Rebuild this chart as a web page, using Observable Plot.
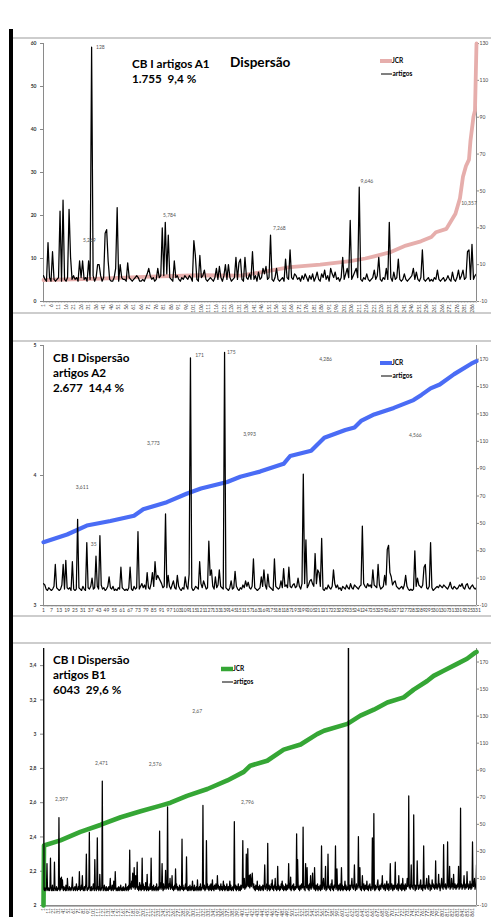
<!DOCTYPE html>
<html><head><meta charset="utf-8">
<script src="https://cdn.jsdelivr.net/npm/d3@7"></script>
<script src="https://cdn.jsdelivr.net/npm/@observablehq/plot@0.6"></script>
<style>
html,body{margin:0;padding:0;background:#fff;}
#page{position:relative;width:491px;height:917px;overflow:hidden;background:#fff;}
.deco{position:absolute;}
</style></head><body><div id="page"></div>
<script>
// ---------- Panel 1 : A1 ----------
const artigos1 = [4,2,1,22,3,1,17,2,1,2, 3,39,1,45,2,1,3,40,14,2, 4,2,3,1,12,3,12,2,3,1, 12,2,128,4,1,3,10,10,4,1,
 3,27,29,12,2,1,1,3,8,41, 1,10,3,2,2,1,11,3,2,1, 2,3,4,3,1,1,2,1,3,5, 8,4,2,3,1,2,8,3,4,30,
 4,33,5,26,3,2,1,12,3,4, 2,1,3,2,4,3,2,4,3,1, 23,15,2,1,15,3,4,7,2,1, 2,3,2,1,3,8,2,9,3,1,
 4,10,2,10,3,1,2,3,14,2, 11,13,2,1,14,3,2,5,2,17, 2,4,1,6,2,3,8,5,9,2, 3,26,2,1,3,8,2,1,2,3,
 1,13,3,2,18,3,2,5,4,2, 3,1,4,2,5,3,1,4,2,5, 1,3,6,2,1,5,3,7,2,4, 1,8,5,3,6,2,3,1,3,14,
 2,5,8,3,34,2,4,6,8,3, 52,2,1,3,2,5,2,1,2,3, 7,2,4,14,2,1,3,2,8,2, 33,3,1,6,2,3,13,2,1,2,
 5,2,1,2,3,4,8,2,6,2, 1,3,18,2,1,2,3,1,2,1, 3,2,7,2,1,2,3,1,2,4, 2,1,6,2,1,3,7,2,4,7,
 2,3,17,18,2,21,2,4,5];
const jcr1Idx = [1,39,72,105,132,139,149,165,185,205,215,221,232,242,252,259,262,269,275,278,280,282,284,285,287,288,289];
const jcr1Val = [5.0,5.3,5.8,6.1,6.0,6.4,7.0,8.0,8.6,9.4,10.0,10.5,11.5,13.0,14.0,15.0,16.1,16.9,20.4,24,29,31.5,33,37.4,43,44.4,60];
const yTicks1 = [0,10,20,30,40,50,60];
const rTicks1 = [-10,10,30,50,70,90,110,130];
const xLabels1 = [1,6,11,16,21,26,31,36,41,46,51,56,61,66,71,76,81,86,91,96,101,106,111,116,121,126,131,136,141,146,151,156,161,166,171,176,181,186,191,196,201,206,211,216,221,226,231,236,241,246,251,256,261,266,271,276,281,286];
const notes1T = ["128","5,269","5,784","7,268","9,646","10,357"];
const notes1I = [38.8,31.5,84.8,157.9,216.1,284];
const notes1V = [59.1,14.2,20.0,16.9,27.9,22.7];

// ---------- Panel 2 : A2 ----------
const artigos2 = [6,5,2,1,3,2,1,2,4,20, 3,2,1,2,5,20,2,23,3,2, 3,1,22,2,1,2,53,3,2,1, 4,2,1,36,3,2,4,10,2,3,
 26,4,2,41,5,2,3,1,2,4, 11,3,2,4,1,2,1,3,2,18, 3,2,1,2,1,3,18,2,1,4, 2,3,44,2,4,6,3,5,2,14,
 3,2,6,14,4,22,9,12,10,8, 6,3,4,57,3,12,4,2,5,8, 3,2,12,4,2,1,3,2,11,4, 2,13,171,3,1,2,4,3,2,22,
 6,3,8,5,2,3,37,12,16,4, 2,11,3,5,16,4,3,2,175,3, 2,1,3,8,2,3,15,4,2,1, 3,2,5,3,8,4,7,3,2,4,
 24,3,2,1,2,3,11,4,16,5, 2,13,4,3,2,1,24,4,3,2, 3,8,3,17,4,5,3,18,4,3, 5,6,3,4,10,4,2,6,86,6,
 38,3,5,8,9,6,4,28,6,16, 14,4,39,2,1,3,2,5,3,2, 4,16,6,3,5,2,3,1,4,3, 2,5,3,2,6,3,2,5,4,3,
 2,4,5,48,6,4,3,6,4,5, 3,16,5,4,3,20,5,2,3,4, 12,5,31,34,14,11,5,7,8,4, 3,2,3,4,2,5,12,4,2,1,
 2,1,2,30,4,10,5,4,3,5, 18,20,3,2,4,36,3,1,2,3, 4,3,5,4,3,5,4,3,2,4, 7,3,2,4,3,2,3,5,4,6,
 3,2,5,6,3,2,4,5,3,2,3];
const jcr2Idx = [1,19,34,52,70,77,95,110,121,141,151,166,184,189,205,215,231,238,243,253,268,283,289,296,303,314,327,331];
const jcr2Val = [3.487,3.546,3.615,3.65,3.69,3.74,3.795,3.86,3.90,3.95,3.99,4.03,4.09,4.15,4.19,4.29,4.35,4.37,4.42,4.47,4.52,4.58,4.62,4.67,4.70,4.78,4.86,4.88];
const yTicks2 = [3,4,5];
const rTicks2 = [-10,10,30,50,70,90,110,130,150,170];
const xLabels2 = [1,7,13,19,25,31,37,43,49,55,61,67,73,79,85,91,97,103,109,115,121,127,133,139,145,151,157,163,169,175,181,187,193,199,205,211,217,223,229,235,241,247,253,259,265,271,277,283,289,295,301,307,313,319,325,331];
const notes2T = ["171","175","3,773","3,993","4,286","4,566","3,611","35"];
const notes2I = [119.9,144.1,84.7,158,216,284.4,30.5,39.3];
const notes2V = [4.923,4.946,4.246,4.315,4.892,4.308,3.908,3.469];

// ---------- Panel 3 : B1 ----------
const artigos3 = [300,2,1,3,2,1,4,21,2,1, 3,2,1,4,25,3,1,2,5,1, 2,1,22,3,2,1,4,2,1,3, 2,55,3,1,10,2,11,3,9,2,
 1,4,2,3,1,5,2,1,10,3, 2,1,4,2,3,1,2,5,11,2, 1,3,2,4,1,2,6,3,1,2, 4,2,15,3,1,2,5,2,12,3,
 1,2,4,1,3,6,28,2,1,3, 2,5,44,3,1,2,4,1,2,3, 6,2,1,24,3,2,1,5,40,2, 4,1,2,13,3,1,2,4,82,3,
 1,2,5,3,1,2,4,1,3,2, 1,4,2,3,10,2,1,3,5,2, 1,8,3,2,15,4,1,2,3,1, 2,4,1,3,2,5,1,2,3,1,
 4,2,1,3,2,6,1,3,2,4, 1,5,2,31,3,6,2,8,4,14, 3,5,18,4,2,12,3,6,22,2, 4,1,3,7,2,5,1,3,25,2,
 6,3,1,4,2,7,3,1,13,2, 4,1,3,2,6,2,25,3,1,4, 2,5,1,3,2,4,1,6,2,3, 1,4,2,45,3,7,2,5,21,3,
 1,6,2,4,3,16,2,5,3,63, 3,2,6,4,10,2,5,3,12,2, 4,1,3,5,2,17,3,6,2,4, 1,3,2,5,1,4,2,3,39,2,
 5,1,3,2,4,6,2,26,3,1, 2,4,1,3,5,2,1,4,2,8, 3,1,2,5,1,3,2,4,1,9, 2,3,1,4,2,6,1,3,2,5,
 64,3,2,5,1,4,2,38,3,6, 2,4,1,3,5,2,6,1,3,9, 2,4,1,5,3,2,6,4,2,12, 3,5,2,4,1,3,6,2,4,1,
 3,8,2,5,1,4,2,3,6,1, 2,4,1,3,8,2,5,1,3,2, 4,1,6,52,3,2,5,1,4,2, 3,6,1,2,4,1,5,2,3,6,
 38,3,4,10,2,5,3,28,4,6, 32,5,4,12,3,13,6,4,10,14, 5,3,6,2,4,1,5,3,2,8, 2,4,1,3,5,2,1,4,3,2,
 5,1,3,6,20,2,4,3,6,1, 36,3,2,5,1,4,2,6,3,9, 2,4,1,5,3,10,2,4,1,3, 19,2,5,3,1,4,2,6,3,8,
 2,5,1,3,4,2,6,1,3,5, 2,4,21,3,6,2,11,1,4,3, 5,2,6,1,3,4,2,5,43,3, 24,6,2,4,1,5,3,2,6,4,
 3,48,5,2,4,1,21,6,3,18, 4,2,5,1,6,3,12,2,4,5, 14,3,6,2,18,4,1,5,3,2, 6,1,4,3,2,5,1,3,34,2,
 4,6,10,3,2,5,19,1,4,2, 6,28,3,5,2,4,1,6,3,9, 2,4,1,5,3,6,34,2,4,17, 3,1,5,2,4,6,1,3,18,2,
 5,1,4,2,3,8,2,5,1,3, 4,2,220,3,1,5,2,4,6,10, 3,5,2,6,20,4,1,3,6,2, 4,5,41,3,6,18,2,4,1,5,
 12,3,2,6,1,4,5,2,3,8, 2,4,1,5,3,6,2,1,4,3, 40,2,6,58,3,1,5,2,4,3, 6,9,2,4,1,5,3,2,6,4,
 12,3,5,2,4,6,1,3,5,8, 2,4,6,1,3,5,21,2,4,6, 3,1,5,4,2,6,22,3,5,2, 4,6,1,12,3,5,2,4,6,1,
 3,10,2,5,4,1,6,3,2,5, 10,4,6,71,3,5,2,6,20,4, 3,5,2,57,6,4,1,5,3,2, 23,6,4,2,5,3,6,9,2,4,
 5,1,6,34,3,5,2,4,6,10, 3,5,2,12,4,6,1,5,3,2, 9,4,6,3,5,2,4,23,3,6, 2,5,4,13,3,6,1,4,5,10,
 3,6,2,35,4,5,3,6,2,4, 5,37,3,6,4,19,2,5,3,10, 4,6,2,13,5,3,6,4,2,5, 3,6,4,19,2,5,3,62,4,6,
 2,5,3,6,12,4,2,5,6,3, 15,4,6,2,5,3,8,4,2,6, 3,37,5,4,6,10,2,4,5,20];
const jcr3Idx = [1,2,35,75,115,156,196,236,256,289,330,370,403,416,450,483,517,550,564,611,637,664,691,724,744,771,784,804,831,851,868,870];
const jcr3Val = [2.0,2.35,2.38,2.43,2.47,2.515,2.55,2.583,2.60,2.64,2.68,2.73,2.78,2.816,2.845,2.91,2.94,3.0,3.02,3.06,3.108,3.143,3.185,3.215,3.26,3.31,3.34,3.37,3.41,3.44,3.477,3.48];
const yTicks3 = [2,2.2,2.4,2.6,2.8,3,3.2,3.4];
const rTicks3 = [-10,10,30,50,70,90,110,130,150,170];
const xLabels3 = [1,11,21,31,41,51,61,71,81,91,101,111,121,131,141,151,161,171,181,191,201,211,221,231,241,251,261,271,281,291,301,311,321,331,341,351,361,371,381,391,401,411,421,431,441,451,461,471,481,491,501,511,521,531,541,551,561,571,581,591,601,611,621,631,641,651,661,671,681,691,701,711,721,731,741,751,761,771,781,791,801,811,821,831,841,851,861];
const notes3T = ["2,67","2,471","2,576","2,397","2,796"];
const notes3I = [309.5,117.4,225.2,37.1,410.4];
const notes3V = [3.131,2.828,2.822,2.618,2.60];

// ---------- titles / legends ----------
const title1 = ["CB I artigos A1","1.755  9,4 %"];
const title1b = "Dispersão";
const title2 = ["CB I Dispersão","artigos A2","2.677  14,4 %"];
const title3 = ["CB I Dispersão","artigos B1","6043  29,6 %"];
const legendLabels = ["JCR","artigos"];
const colors = {jcr1:"#e6aeac", jcr2:"#4a6cf5", jcr3:"#35a635"};

const page = document.getElementById("page");
const FONT = "Lato, 'Open Sans', sans-serif";
function deco(css){const d=document.createElement("div");d.className="deco";d.style.cssText=css;page.appendChild(d);}

// panel borders and left black bar
deco("left:13px;top:37px;width:478px;height:2px;background:#cdcdcd;");
deco("left:13px;top:312px;width:478px;height:2px;background:#cdcdcd;");
deco("left:13px;top:340px;width:478px;height:2px;background:#cdcdcd;");
deco("left:13px;top:615px;width:478px;height:2px;background:#cdcdcd;");
deco("left:13px;top:642px;width:478px;height:2px;background:#cdcdcd;");
deco("left:9px;top:29px;width:4px;height:900px;background:#000;");

const W = 478;
function makePanel(c){
  const n = c.art.length;
  const k = (c.yDomain[1]-c.yDomain[0])/(c.rDomain[1]-c.rDomain[0]);
  const toL = a => c.yDomain[0] + (a - c.rDomain[0])*k;
  const fromL = l => c.rDomain[0] + (l - c.yDomain[0])/k;
  const px = (c.yDomain[1]-c.yDomain[0])/(c.height-c.mt-c.mb);
  const artData = c.art.map((v,j)=>({i:j+1, v:toL(v)}));
  const jcrData = c.jcrI.map((x,j)=>({i:x, v:c.jcrV[j]}));
  const notes = c.nT.map((t,j)=>({t, i:c.nI[j], v:c.nV[j]}));
  const cats = d3.range(1, n+1);
  const svg = Plot.plot({
    width: W, height: c.height,
    marginLeft: 30, marginRight: 15, marginTop: c.mt, marginBottom: c.mb,
    x: {domain:[1,n]},
    y: {domain:c.yDomain},
    style: {fontFamily: FONT, background:"transparent", overflow:"visible"},
    marks: [
      Plot.ruleX(cats, {x:d=>d, y1:c.yDomain[0], y2:c.yDomain[0]-2*px, stroke:"#9a9a9a", strokeWidth:0.5}),
      Plot.axisY({ticks:c.yTicks, tickFormat:c.yFmt, tickSize:3, tickPadding:4, fontSize:5, fontWeight:"bold", stroke:"#888", fill:"#333", label:null}),
      Plot.axisY({anchor:"right", ticks:c.rTicks.map(toL), tickFormat:d=>String(Math.round(fromL(d))), tickSize:2, tickPadding:1, fontSize:5, stroke:"#888", fill:"#444", label:null}),
      Plot.axisX({ticks:c.xLabels, tickSize:0, tickPadding:2.5, tickRotate:c.xRotate, fontSize:5, fill:"#444", label:null}),
      Plot.ruleX([1,n], {stroke:"#8a8a8a", strokeWidth:1}),
      Plot.ruleY([c.yDomain[0]], {stroke:"#8a8a8a", strokeWidth:1}),
      Plot.line(jcrData, {x:"i", y:"v", stroke:c.color, strokeWidth:c.jw}),
      Plot.line(artData, {x:"i", y:"v", stroke:"#000", strokeWidth:1.25, clip:true}),
      Plot.text(notes, {x:"i", y:"v", text:"t", fontSize:5, fill:"#555"})
    ]
  });
  const div = document.createElement("div");
  div.style.cssText = `position:absolute;left:13px;top:${c.top}px;width:${W}px;height:${c.height}px;`;
  div.appendChild(svg);
  page.appendChild(div);
}

const intFmt = d => String(d);
const commaFmt = d => String(+d.toFixed(1)).replace(".", ",");

makePanel({top:39, height:274, mt:4, mb:12, yDomain:[0,60], rDomain:[-10,130], yTicks:yTicks1, yFmt:intFmt, rTicks:rTicks1,
  xLabels:xLabels1, xRotate:-90, jcrI:jcr1Idx, jcrV:jcr1Val, color:colors.jcr1, jw:3.8, art:artigos1, nT:notes1T, nI:notes1I, nV:notes1V});
makePanel({top:342, height:274, mt:3, mb:11, yDomain:[3,5], rDomain:[-10,180], yTicks:yTicks2, yFmt:intFmt, rTicks:rTicks2,
  xLabels:xLabels2, xRotate:0, jcrI:jcr2Idx, jcrV:jcr2Val, color:colors.jcr2, jw:4.2, art:artigos2, nT:notes2T, nI:notes2I, nV:notes2V});
makePanel({top:644, height:273, mt:4, mb:12, yDomain:[2,3.5], rDomain:[-10,180], yTicks:yTicks3, yFmt:commaFmt, rTicks:rTicks3,
  xLabels:xLabels3, xRotate:-90, jcrI:jcr3Idx, jcrV:jcr3Val, color:colors.jcr3, jw:4.6, art:artigos3, nT:notes3T, nI:notes3I, nV:notes3V});

// overlay: titles and legends
const ov = d3.select(page).append("svg").attr("width",491).attr("height",917)
  .style("position","absolute").style("left","0px").style("top","0px").style("pointer-events","none");
function txt(x,y,s,size,weight){
  ov.append("text").attr("x",x).attr("y",y).attr("font-size",size).attr("font-weight",weight||"bold")
    .attr("font-family",FONT).attr("fill","#000").style("white-space","pre").text(s);
}
function legend(x,y,color,w){
  ov.append("line").attr("x1",x).attr("x2",x+12).attr("y1",y).attr("y2",y).attr("stroke",color).attr("stroke-width",w);
  ov.append("line").attr("x1",x+1).attr("x2",x+12).attr("y1",y+13).attr("y2",y+13).attr("stroke","#000").attr("stroke-width",1);
  txt(x+12,y+2.3,legendLabels[0],6.5);
  txt(x+12.5,y+15.3,legendLabels[1],6.5);
}
txt(132,67.5,title1[0],11.7); txt(132,83,title1[1],11.7); txt(230,67,title1b,13.6);
legend(380,61,colors.jcr1,4);
title2.forEach((s,j)=>txt(53,362+j*14.8,s,11.7));
legend(380,363,colors.jcr2,4);
title3.forEach((s,j)=>txt(53,664+j*15,s,11.7));
legend(221,669,colors.jcr3,4.5);
</script></body></html>
